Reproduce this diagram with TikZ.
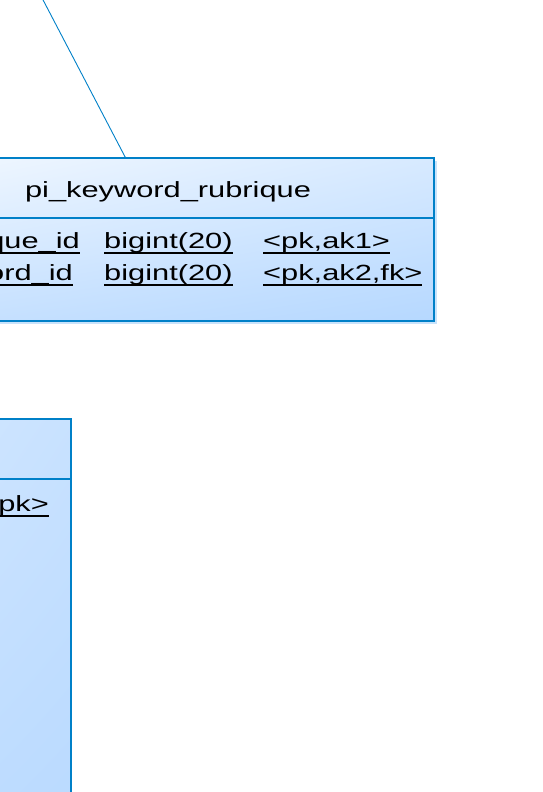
\documentclass[tikz,border=0pt]{standalone}
\usepackage{fontspec}
\setmainfont{Liberation Sans}[FakeStretch=1.4]
\usepackage{tikz}
\usetikzlibrary{positioning, shadings}

\newcommand{\keyul}[1]{\setbox0\hbox{#1}\rlap{\rule[-6pt]{\wd0}{2pt}}\box0}

\begin{document}
\begin{tikzpicture}[x=1pt,y=-1pt]
        \definecolor{tableblue}{HTML}{0080C8}
        \definecolor{tablelight}{HTML}{F2F8FF}
        \definecolor{tabledark}{HTML}{B6D8FF}
        \definecolor{tableshadow}{HTML}{C9E3FB}
        \tikzset{
            table/.style={rectangle, draw=tableblue, line width=1.4pt, inner sep=0pt},
            tabletext/.style={inner sep=0pt, font=\fontsize{22}{26}\selectfont},
            link/.style={draw=tableblue, line width=0.9pt}
        }
        \clip (0,0) rectangle (543,792);

        % pi_keyword_rubrique
        \fill[tableshadow] (-95,161) rectangle (437,324);
        \node[table, minimum width=532pt, minimum height=163pt,
              upper left=tablelight, upper right=tabledark!45!tablelight,
              lower left=tabledark!70!tablelight, lower right=tabledark] (kwrub) at (168,239.5) {};
        \draw[tableblue, line width=1.2pt] (kwrub.west |- 0,218) -- (kwrub.east |- 0,218);
        \node[tabletext, anchor=base] (kwtitle) at (168,197) {pi\_keyword\_rubrique};
        \node[tabletext, anchor=base east] (rubid) at (80,248) {\keyul{rubrique\_id}};
        \node[tabletext, anchor=base west] (rubtype) at (104,248) {\keyul{bigint(20)}};
        \node[tabletext, anchor=base west] (rubkey) at (263,248) {\keyul{<pk,ak1>}};
        \node[tabletext, anchor=base east] (kwid) at (73,280) {\keyul{keyword\_id}};
        \node[tabletext, anchor=base west] (kwtype) at (104,280) {\keyul{bigint(20)}};
        \node[tabletext, anchor=base west] (kwkey) at (263,280) {\keyul{<pk,ak2,fk>}};

        % table below
        \node[table, minimum width=300pt, minimum height=500pt,
              upper left=tablelight!60!tabledark, upper right=tabledark!70!tablelight,
              lower left=tabledark!85!tablelight, lower right=tabledark] (lower) at (-79,669) {};
        \draw[tableblue, line width=1.2pt] (lower.west |- 0,479) -- (lower.east |- 0,479);
        \node[tabletext, anchor=base east] (lowkey) at (49,511) {\keyul{<pk>}};

        % reference going up
        \coordinate (up) at (18,-48);
        \draw[link] (up) -- (kwrub);
    \end{tikzpicture}
\end{document}
